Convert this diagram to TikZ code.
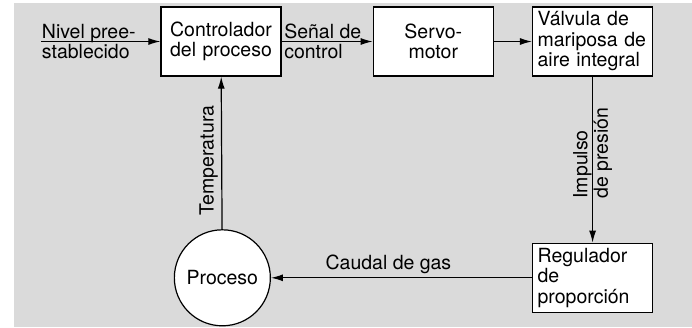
\documentclass[tikz,border=0pt]{standalone}
\usepackage{fontspec}
\setmainfont{TeX Gyre Heros}
\usepackage{tikz}
\usetikzlibrary{shapes,positioning,arrows.meta}
\definecolor{panel}{RGB}{218,218,218}
\tikzstyle{ptr}   = [draw, line width=1.2pt, -{Latex[length=12pt,width=7pt]}]
\tikzstyle{block} = [rectangle, draw, fill=white, line width=1.3pt, minimum width=120pt, minimum height=69pt, inner xsep=5pt, text width=110pt]
\tikzstyle{proc}  = [circle, draw, fill=white, line width=1.2pt, minimum size=96pt, inner sep=0pt]
\tikzstyle{lbl}   = [align=left, inner sep=2pt]

\begin{document}
\begin{tikzpicture}[x=1pt, y=-1pt, font=\fontsize{19.5}{20.5}\selectfont]

    \useasboundingbox (0,0) rectangle (692,327);
    \fill[panel] (14,3) rectangle (692,327);

    \node[block, align=center] (ctrl) at (221,41.5) {Controlador\\del proceso};
    \node[block, align=center, right=91pt of ctrl]  (servo) {Servo-\\motor};
    \node[block, align=left, right=38pt of servo]   (valve) {V\'alvula de\\mariposa de\\aire integral};
    \node[block, align=left, below=166pt of valve]  (reg)   {Regulador\\de\\proporci\'on};
    \node[proc, left=261pt of reg]                  (proc)  {Proceso};
    \coordinate[left=119pt of ctrl] (in);

    \draw[ptr] (in) -- node[lbl, anchor=west, pos=0, inner xsep=0pt] {Nivel pree-\\stablecido} (ctrl);
    \draw[ptr] (ctrl) -- node[lbl, anchor=west, pos=0] {Se\~nal de\\control} (servo);
    \draw[ptr] (servo) -- (valve);
    \draw[ptr] (valve) -- node[lbl, pos=0.75, rotate=90, anchor=west] {Impulso\\de presi\'on} (reg);
    \draw[ptr] (reg) -- node[above, pos=0.55] {Caudal de gas} (proc);
    \draw[ptr] (proc) -- node[pos=0.45, rotate=90, anchor=south] {Temperatura} (ctrl);

\end{tikzpicture}
\end{document}
